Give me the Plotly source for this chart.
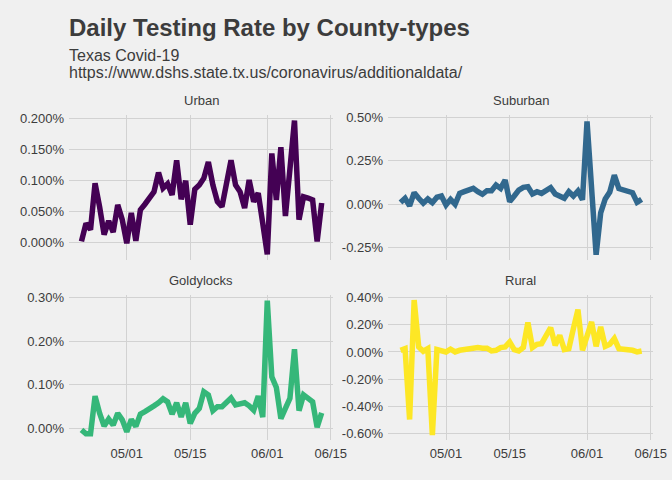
import pandas as pd
import plotly.graph_objects as go

# ── data (daily testing rate, % of population) ──
dates = pd.date_range("2020-04-21", "2020-06-13", freq="D")

urban = [0.001, 0.030, 0.020, 0.095, 0.057, 0.012, 0.034, 0.016, 0.060, 0.036,
         -0.002, 0.047, 0.002, 0.052, 0.061, 0.071, 0.081, 0.112, 0.087, 0.094,
         0.076, 0.132, 0.069, 0.099, 0.028, 0.085, 0.092, 0.103, 0.129, 0.092,
         0.065, 0.057, 0.100, 0.132, 0.092, 0.081, 0.055, 0.100, 0.065, 0.079,
         0.030, -0.020, 0.143, 0.068, 0.153, 0.042, 0.118, 0.196, 0.036, 0.073,
         0.071, 0.068, 0.001, 0.063]

suburban = [0.010, 0.034, -0.010, 0.066, 0.034, 0.006, 0.030, 0.009, 0.040, 0.047,
            -0.004, 0.028, 0.000, 0.062, 0.072, 0.081, 0.091, 0.072, 0.057, 0.078,
            0.078, 0.110, 0.091, 0.138, 0.015, 0.047, 0.081, 0.097, 0.100, 0.059,
            0.072, 0.062, 0.078, 0.095, 0.059, 0.047, 0.034, 0.072, 0.047, 0.076,
            0.025, 0.475, 0.090, -0.290, -0.050, 0.030, 0.070, 0.167, 0.090, 0.080,
            0.076, 0.066, 0.011, 0.028]

goldylocks = [-0.003, -0.012, -0.012, 0.074, 0.035, 0.006, 0.022, 0.008, 0.035, 0.020,
              -0.007, 0.021, 0.005, 0.033, 0.039, 0.044, 0.052, 0.059, 0.068, 0.061,
              0.033, 0.059, 0.027, 0.059, 0.012, 0.035, 0.046, 0.084, 0.077, 0.041,
              0.050, 0.050, 0.059, 0.070, 0.054, 0.056, 0.059, 0.052, 0.042, 0.074,
              0.026, 0.292, 0.118, 0.094, 0.023, 0.046, 0.069, 0.181, 0.041, 0.077,
              0.069, 0.061, 0.003, 0.036]

rural = [0.012, 0.024, -0.495, 0.380, 0.037, 0.005, 0.024, -0.610, 0.017, 0.012,
         0.000, 0.020, 0.000, 0.012, 0.017, 0.020, 0.020, 0.032, 0.027, 0.027,
         0.007, 0.012, 0.032, 0.037, 0.073, 0.017, 0.007, 0.032, 0.215, 0.032,
         0.056, 0.061, 0.120, 0.178, 0.049, 0.122, 0.017, 0.024, 0.170, 0.310,
         0.012, 0.110, 0.220, 0.041, 0.183, 0.041, 0.056, 0.098, 0.024, 0.020,
         0.020, 0.012, 0.000, 0.007]

x_tickvals = ["2020-05-01", "2020-05-15", "2020-06-01", "2020-06-15"]
x_ticktext = ["05/01", "05/15", "06/01", "06/15"]

panels = [
    # name, values, colour, y tick values, y tick labels, y range
    ("Urban", urban, "#440154", [0, 0.05, 0.10, 0.15, 0.20],
     ["0.000%", "0.050%", "0.100%", "0.150%", "0.200%"], [-0.029, 0.205]),
    ("Suburban", suburban, "#31688E", [-0.25, 0, 0.25, 0.50],
     ["-0.25%", "0.00%", "0.25%", "0.50%"], [-0.32, 0.512]),
    ("Goldylocks", goldylocks, "#35B779", [0, 0.10, 0.20, 0.30],
     ["0.00%", "0.10%", "0.20%", "0.30%"], [-0.026, 0.305]),
    ("Rural", rural, "#FDE725", [-0.6, -0.4, -0.2, 0, 0.2, 0.4],
     ["-0.60%", "-0.40%", "-0.20%", "0.00%", "0.20%", "0.40%"], [-0.645, 0.417]),
]

# ── styling ──
BG = "#F0F0F0"
GRID = "#D2D2D2"
TEXT = "#3C3C3C"
W, H = 672, 480

x_doms = [[69 / W, 333 / W], [388 / W, 653 / W]]
y_doms = [[1 - 260 / H, 1 - 115 / H], [1 - 440 / H, 1 - 295 / H]]

fig = go.Figure()
annotations = []

for i, (name, vals, color, yt, ytt, yr) in enumerate(panels):
    r, c = divmod(i, 2)
    n = i + 1
    xa = "x" if n == 1 else f"x{n}"
    ya = "y" if n == 1 else f"y{n}"
    fig.add_trace(go.Scatter(
        x=dates, y=vals, mode="lines", name=name,
        line=dict(color=color, width=5.5),
        xaxis=xa, yaxis=ya, showlegend=False,
    ))
    fig.layout[f"xaxis{'' if n == 1 else n}"] = dict(
        domain=x_doms[c], anchor=ya, automargin=False,
        range=["2020-04-18 06:00", "2020-06-15 12:00"],
        tickvals=x_tickvals, ticktext=x_ticktext,
        showticklabels=(r == 1), ticklabelstandoff=4,
        showgrid=True, gridcolor=GRID, gridwidth=1.4,
        zeroline=False, showline=False, ticks="",
        tickfont=dict(size=13, color=TEXT),
    )
    fig.layout[f"yaxis{'' if n == 1 else n}"] = dict(
        domain=y_doms[r], anchor=xa, range=yr, automargin=False,
        tickvals=yt, ticktext=ytt, ticklabelstandoff=4,
        showgrid=True, gridcolor=GRID, gridwidth=1.4,
        zeroline=False, showline=False, ticks="",
        tickfont=dict(size=13, color=TEXT),
    )
    # facet strip label
    annotations.append(dict(
        text=name, x=sum(x_doms[c]) / 2, y=y_doms[r][1],
        xref="paper", yref="paper", xanchor="center", yanchor="bottom",
        yshift=5, showarrow=False, font=dict(size=13, color=TEXT),
    ))

# title + subtitle
annotations.append(dict(
    text="<b>Daily Testing Rate by County-types</b>", x=67 / W, y=1 - 27.5 / H,
    xref="paper", yref="paper", xanchor="left", yanchor="middle",
    showarrow=False, font=dict(size=24, color=TEXT),
))
annotations.append(dict(
    text="Texas Covid-19", x=67 / W, y=1 - 55.5 / H,
    xref="paper", yref="paper", xanchor="left", yanchor="middle",
    showarrow=False, font=dict(size=16, color=TEXT),
))
annotations.append(dict(
    text="https://www.dshs.state.tx.us/coronavirus/additionaldata/", x=67 / W, y=1 - 72 / H,
    xref="paper", yref="paper", xanchor="left", yanchor="middle",
    showarrow=False, font=dict(size=16, color=TEXT),
))

fig.update_layout(
    width=W, height=H,
    paper_bgcolor=BG, plot_bgcolor=BG,
    font=dict(family="Liberation Sans, Arial, sans-serif", color=TEXT),
    margin=dict(l=0, r=0, t=0, b=0, autoexpand=False),
    annotations=annotations,
)

# drop the default page margin so the 672x480 figure fills the window
page_js = (
    "document.body.style.margin='0';"
    "document.body.style.overflow='hidden';"
)
fig.write_html("out.html", config={"displayModeBar": False}, post_script=page_js)
